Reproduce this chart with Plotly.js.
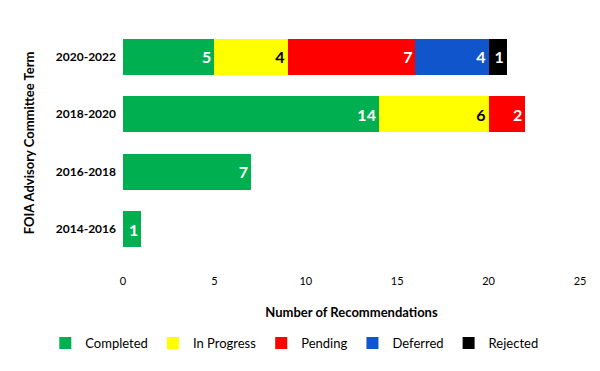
<!DOCTYPE html>
<html><head><meta charset="utf-8">
<script src="https://cdn.plot.ly/plotly-3.0.1.min.js"></script>
<style>body{margin:0}#c{width:600px;height:371px}</style>
</head><body><div id="c"></div>
<script>
const terms = ['2014-2016','2016-2018','2018-2020','2020-2022'];
const completed = [1, 7, 14, 5];
const inProgress = [null, null, 6, 4];
const pending = [null, null, 2, 7];
const deferred = [null, null, null, 4];
const rejected = [null, null, null, 1];
const seriesNames = ['Completed','In Progress','Pending','Deferred','Rejected'];
const seriesColors = ['#00b050','#ffff00','#ff0000','#1155cc','#000000'];
const labelColors = ['#ffffff','#000000','#ffffff','#ffffff','#ffffff'];
const allVals = [completed, inProgress, pending, deferred, rejected];
const FONT = 'Lato, "Open Sans", sans-serif';
const data = allVals.map((v,i)=>({
  type:'bar', orientation:'h', name:seriesNames[i], y:terms, x:v,
  marker:{color:seriesColors[i], line:{width:0}},
  text:v.map(d=>d==null?'':String(d)), textposition:'inside', insidetextanchor:'end',
  textfont:{family:FONT, size:16, color:labelColors[i], weight:'bold'},
  constraintext:'none', hoverinfo:'x+name'
}));
const layout = {
  width:600, height:371, barmode:'stack', bargap:0.37,
  margin:{l:123, r:20, t:28, b:113},
  paper_bgcolor:'#fff', plot_bgcolor:'#fff',
  font:{family:FONT, size:12, color:'#000'},
  xaxis:{range:[0,25], dtick:5, showgrid:false, zeroline:false, showline:false, ticks:'',
    tickfont:{size:11}, ticklabelstandoff:15,
    title:{text:'<b>Number of Recommendations</b>', font:{size:13}, standoff:21}},
  yaxis:{showgrid:false, zeroline:false, showline:false, ticks:'', ticklabelstandoff:6,
    tickfont:{size:12, weight:'bold'}, tickprefix:'<b>', ticksuffix:'</b>',
    title:{text:'<b>FOIA Advisory Committee Term</b>', font:{size:13}, standoff:18}},
  showlegend:true,
  legend:{orientation:'h', xref:'paper', yref:'paper', x:-0.17, xanchor:'left', y:-0.37, yanchor:'middle',
    font:{size:13}, traceorder:'normal'},
};
Plotly.newPlot('c', data, layout, {displayModeBar:false, staticPlot:true});
</script></body></html>
